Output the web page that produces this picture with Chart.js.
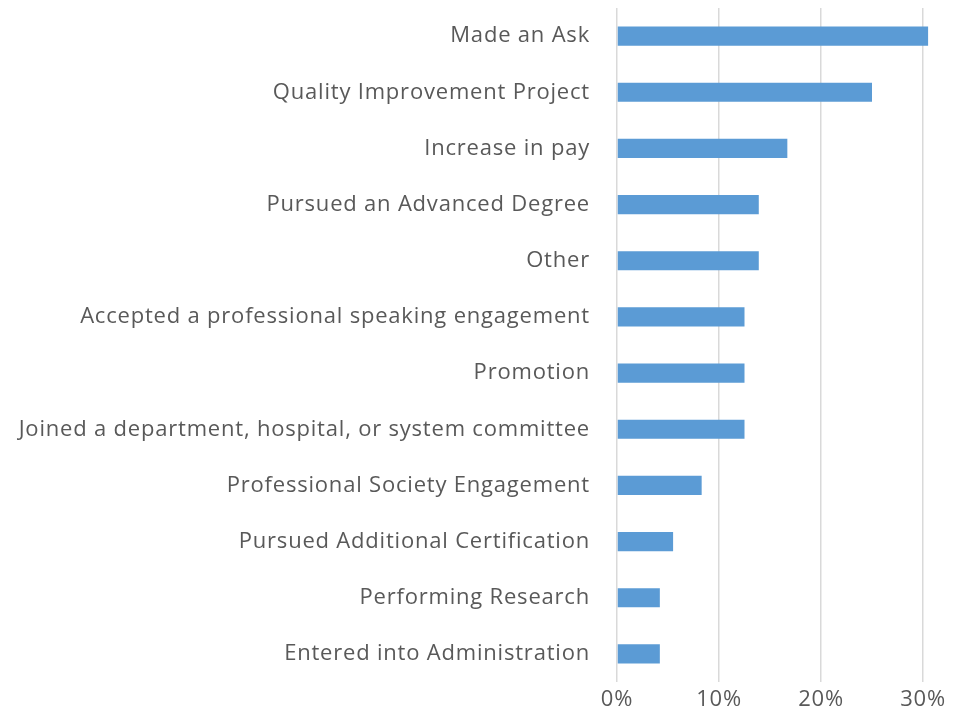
<!DOCTYPE html>
<html>
<head>
<meta charset="utf-8">
<script src="https://cdn.jsdelivr.net/npm/chart.js@4"></script>
<style>
  html, body { margin: 0; padding: 0; background: #fff; }
  #wrap { width: 959px; height: 712px; }
</style>
</head>
<body>
<div id="wrap"><canvas id="chart"></canvas></div>
<script>
// Categories, top to bottom
const categories = [
    'Made an Ask',
    'Quality Improvement Project',
    'Increase in pay',
    'Pursued an Advanced Degree',
    'Other',
    'Accepted a professional speaking engagement',
    'Promotion',
    'Joined a department, hospital, or system committee',
    'Professional Society Engagement',
    'Pursued Additional Certification',
    'Performing Research',
    'Entered into Administration'
];

// Share of respondents (%)
const values = [30.5, 25.0, 16.7, 13.9, 13.9, 12.5, 12.5, 12.5, 8.3, 5.5, 4.2, 4.2];

// X axis ticks
const xTicks = [0, 10, 20, 30];

const gridColor = '#d9d9d9';
const labelColor = '#595959';
const fontFamily = "'Open Sans', sans-serif";

// Slightly wider text, like the original
const letterSpacing = {
    id: 'letterSpacing',
    beforeDraw: chart => { chart.ctx.letterSpacing = '0.8px'; }
};

new Chart(document.getElementById('chart'), {
    type: 'bar',
    data: {
        labels: categories,
        datasets: [{
            data: values,
            backgroundColor: '#5b9bd5',
            borderWidth: 0,
            categoryPercentage: 0.68,
            barPercentage: 0.5,
            clip: false
        }]
    },
    plugins: [letterSpacing],
    options: {
        indexAxis: 'y',
        responsive: true,
        maintainAspectRatio: false,
        animation: false,
        layout: { padding: { top: 8, right: 36, bottom: 0, left: 0 } },
        plugins: {
            legend: { display: false },
            tooltip: { enabled: false }
        },
        scales: {
            x: {
                min: xTicks[0],
                max: xTicks[xTicks.length - 1],
                afterBuildTicks: axis => {
                    axis.ticks = xTicks.map(v => ({ value: v }));
                },
                afterFit: axis => { axis.height = 30; },
                ticks: {
                    color: labelColor,
                    font: { family: fontFamily, size: 22 },
                    padding: 5,
                    callback: v => v + '%'
                },
                grid: { color: gridColor, lineWidth: 1.5, drawTicks: false },
                border: { display: false }
            },
            y: {
                afterFit: axis => {
                    axis.width = 617;
                    axis.paddingTop = 0;
                    axis.paddingBottom = 0;
                },
                ticks: {
                    color: labelColor,
                    font: { family: fontFamily, size: 22 },
                    padding: 27
                },
                grid: { display: false, drawTicks: false },
                border: { display: false }
            }
        }
    }
});
</script>
</body>
</html>
